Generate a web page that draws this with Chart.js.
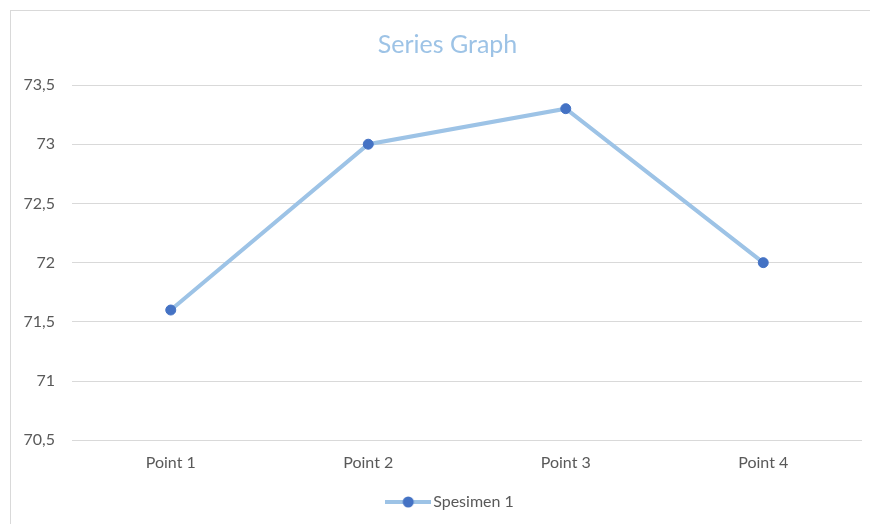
<!DOCTYPE html>
<html>
<head>
<meta charset="utf-8">
<script src="https://cdn.jsdelivr.net/npm/chart.js@4.4.0/dist/chart.umd.min.js"></script>
<style>
  html, body { margin: 0; padding: 0; background: #fff; overflow: hidden; }
  #frame { position: absolute; left: 10px; top: 10px; width: 900px; height: 600px; border: 1px solid #d9d9d9; }
  #wrap { position: absolute; left: 15px; top: 0; width: 864px; height: 524px; }
</style>
</head>
<body>
<div id="frame"></div>
<div id="wrap"><canvas id="seriesChart"></canvas></div>
<script>
// data
const categories = ["Point 1", "Point 2", "Point 3", "Point 4"];
const spesimen1 = [71.6, 73, 73.3, 72];
const seriesName = "Spesimen 1";
const chartTitle = "Series Graph";

const lineColor = "#9dc3e6";
const markerColor = "#4472c4";
const textColor = "#595959";
const fontFamily = "Lato, 'Open Sans', sans-serif";

// legend icon: short line with the marker on it
function legendIcon() {
  const c = document.createElement("canvas");
  c.width = 46; c.height = 14;
  const g = c.getContext("2d");
  g.strokeStyle = lineColor;
  g.lineWidth = 4;
  g.beginPath(); g.moveTo(0, 7); g.lineTo(46, 7); g.stroke();
  g.fillStyle = markerColor;
  g.beginPath(); g.arc(23, 7, 5.5, 0, Math.PI * 2); g.fill();
  return c;
}
const icon = legendIcon();

// the original centres title + legend on the whole frame, not just the plot,
// so nudge those two boxes right a bit after layout
const nudgeBoxes = {
  id: "nudgeBoxes",
  afterLayout(chart) {
    const t = chart.titleBlock, l = chart.legend;
    if (t) { t.left += 9; t.right += 9; }
    if (l) { l.left += 14; l.right += 14; }
  }
};

new Chart(document.getElementById("seriesChart"), {
  type: "line",
  data: {
    labels: categories,
    datasets: [{
      label: seriesName,
      data: spesimen1,
      borderColor: lineColor,
      borderWidth: 4,
      pointBackgroundColor: markerColor,
      pointBorderColor: markerColor,
      pointRadius: 5,
      pointBorderWidth: 1,
      tension: 0
    }]
  },
  plugins: [nudgeBoxes],
  options: {
    responsive: true,
    maintainAspectRatio: false,
    animation: false,
    layout: { padding: { left: 0, right: 17, top: 0, bottom: 4 } },
    plugins: {
      title: {
        display: true,
        text: chartTitle,
        color: "#9dc3e6",
        font: { family: fontFamily, size: 25, weight: "normal" },
        padding: { top: 30, bottom: 25 }
      },
      legend: {
        position: "bottom",
        labels: {
          color: textColor,
          font: { family: fontFamily, size: 16 },
          padding: 8.5,
          usePointStyle: true,
          pointStyleWidth: 34,
          generateLabels: (chart) => [{
            text: seriesName,
            pointStyle: icon,
            fontColor: textColor,
            datasetIndex: 0
          }]
        }
      },
      tooltip: { enabled: false }
    },
    scales: {
      x: {
        offset: true,
        grid: { display: false, drawTicks: false },
        border: { display: false },
        ticks: { color: textColor, font: { family: fontFamily, size: 16 }, padding: 13 }
      },
      y: {
        min: 70.5,
        max: 73.5,
        grid: { color: "#d9d9d9", lineWidth: 1, drawTicks: false },
        border: { display: false },
        ticks: {
          stepSize: 0.5,
          color: textColor,
          font: { family: fontFamily, size: 16 },
          padding: 17,
          callback: (v) => String(v).replace(".", ",")
        },
        afterFit: (scale) => { scale.width = 57; }
      }
    }
  }
});
</script>
</body>
</html>
